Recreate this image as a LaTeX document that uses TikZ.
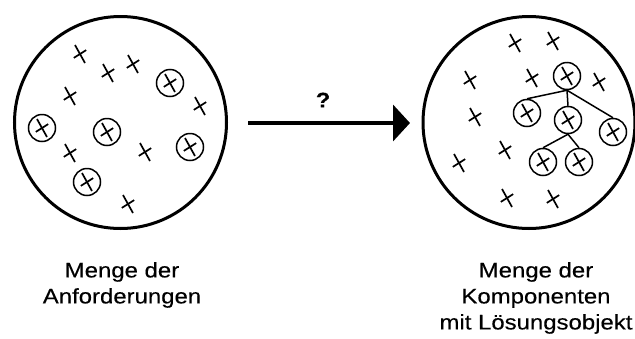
\documentclass[tikz,border=0pt]{standalone}
\usepackage{fontspec}
\setmainfont{Liberation Sans}
\newfontfamily\lblfont[FakeStretch=1.14,FakeBold=0.25]{Liberation Sans}
\usetikzlibrary{arrows.meta}

\tikzset{
  setcircle/.style={circle, draw, line width=3pt, inner sep=0pt, minimum size=212pt},
  % tilted cross: long steep stroke, short shallow stroke
  xcross/.pic={
    \draw[line width=1.7pt] (-5,-9) -- (5,9) (-6.2,3.9) -- (6.2,-3.9);
  },
  oxmark/.style={circle, draw, line width=1.5pt, inner sep=0pt, minimum size=27pt},
  treeedge/.style={line width=1.5pt},
  flowarrow/.style={line width=4pt, -{Triangle[length=17pt,width=36pt]}},
  caption/.style={font=\lblfont\fontsize{21}{26}\selectfont, align=center,
    anchor=north, inner sep=0pt},
}

\begin{document}
\begin{tikzpicture}[x=1pt, y=-1pt]
\useasboundingbox (0,0) rectangle (635,338);

% left set: requirements
\node[setcircle] (leftset) at (120.5,122.5) {};
\foreach \p in {(80,54),(108,73),(133,64),(70,96),(200,106),(70,153),(145,152),(128,204)}
  \pic at \p {xcross};
\node[oxmark] (b1) at (170,83) {};
\node[oxmark] (b2) at (42,128) {};
\node[oxmark] (b3) at (107,132) {};
\node[oxmark] (b4) at (190,147) {};
\node[oxmark] (b5) at (87,182) {};
\foreach \n in {b1,b2,b3,b4,b5}
  \pic at (\n.center) {xcross};

% right set: components with solution object tree
\node[setcircle] (rightset) at (529,122.5) {};
\foreach \p in {(515,43),(553,41),(470,80),(532,78),(599,82),(475,117),(505,150),(459,163),(507,198),(553,199)}
  \pic at \p {xcross};
\node[oxmark] (root) at (567,76) {};
\node[oxmark] (kl) at (527,113) {};
\node[oxmark] (km) at (568,120) {};
\node[oxmark] (kr) at (613,132) {};
\node[oxmark] (gl) at (543,162) {};
\node[oxmark] (gr) at (579,162) {};
\foreach \n in {root,kl,km,kr,gl,gr}
  \pic at (\n.center) {xcross};
\draw[treeedge] (root.south) -- (kl.north);
\draw[treeedge] (root.south) -- (km.north);
\draw[treeedge] (root.south) -- (kr.north);
\draw[treeedge] (km.south) -- (gl.north);
\draw[treeedge] (km.south) -- (gr.north);

% transformation arrow
\coordinate (arrowstart) at (248,123);
\coordinate (arrowend) at (410,123);
\draw[flowarrow] (arrowstart) -- (arrowend);
\node[font=\lblfont\bfseries\fontsize{21}{24}\selectfont, inner sep=0pt] (q) at (323,100) {?};

% captions
\node[caption] (leftcap) at (122,262) {Menge der\\Anforderungen};
\node[caption] (rightcap) at (536,262) {Menge der\\Komponenten\\mit Lösungsobjekt};
\end{tikzpicture}
\end{document}
